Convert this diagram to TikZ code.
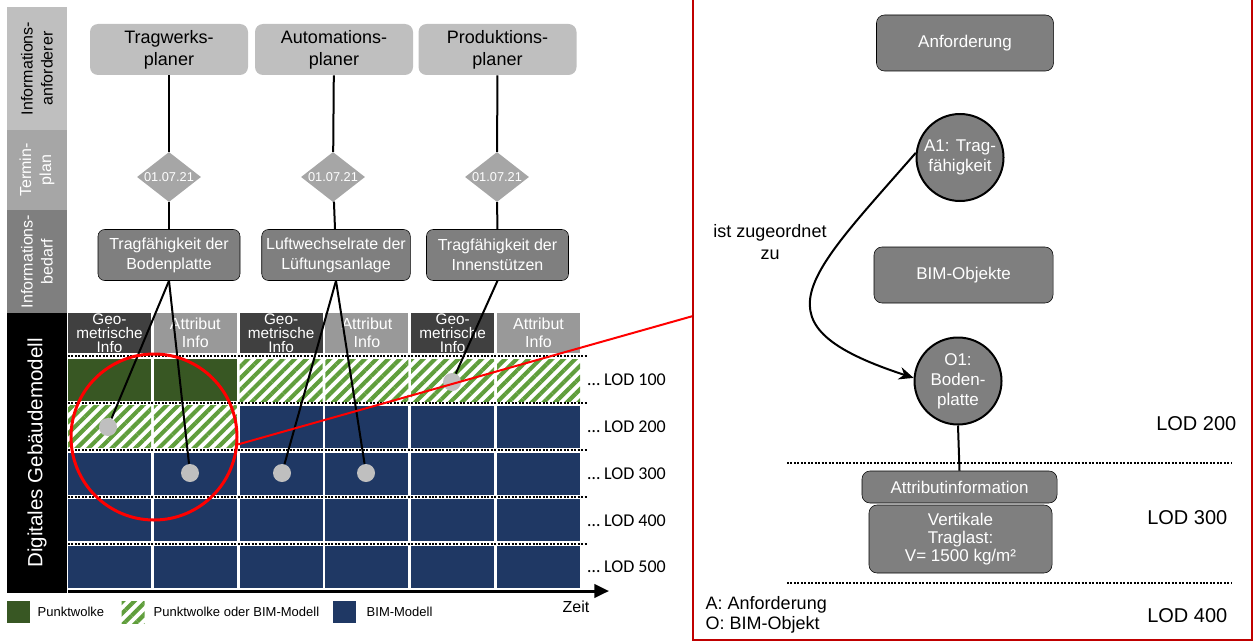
\documentclass[tikz,border=0pt]{standalone}
\usepackage{fontspec}
\setmainfont{Liberation Sans}
\newfontfamily\lodfont{Carlito}
\usetikzlibrary{positioning,shapes.geometric,arrows.meta,calc,patterns.meta}

\definecolor{reqgrey}{HTML}{BFBFBF}
\definecolor{plangrey}{HTML}{A6A6A6}
\definecolor{needgrey}{HTML}{7F7F7F}
\definecolor{geohead}{HTML}{404040}
\definecolor{atthead}{HTML}{999999}
\definecolor{cloudgreen}{HTML}{385723}
\definecolor{stripegreen}{HTML}{609E3C}
\definecolor{bimblue}{HTML}{1F3864}
\definecolor{framered}{HTML}{C00000}

\begin{document}
\begin{tikzpicture}[
    x=0.75pt,
    y=-0.75pt,
    >=Stealth,
    sidebar/.style={
        rotate=90,
        minimum height=45pt,
        inner sep=0pt,
        align=center,
        font=\fontsize{12}{15}\selectfont
    },
    role/.style={
        fill=reqgrey,
        rounded corners=6pt,
        minimum width=118.5pt,
        minimum height=38.25pt,
        align=center,
        font=\fontsize{13.5}{16.5}\selectfont
    },
    datebox/.style={
        diamond,
        fill=plangrey,
        minimum width=48pt,
        minimum height=37.5pt,
        inner sep=0pt
    },
    need/.style={
        draw=black,
        fill=needgrey,
        rounded corners=5pt,
        minimum width=106.5pt,
        minimum height=38.25pt,
        align=center,
        text=white,
        font=\fontsize{12}{15}\selectfont
    },
    geohd/.style={
        fill=geohead,
        text=white,
        minimum width=62.25pt,
        minimum height=30pt,
        inner sep=0pt,
        align=center,
        font=\fontsize{11.5}{10.5}\selectfont
    },
    atthd/.style={
        fill=atthead,
        text=white,
        minimum width=62.25pt,
        minimum height=30pt,
        inner sep=0pt,
        align=center,
        font=\fontsize{12}{13.5}\selectfont
    },
    cell/.style={minimum width=62.25pt, minimum height=31.5pt, inner sep=0pt},
    cloud/.style={cell, fill=cloudgreen},
    mixed/.style={cell, pattern={Lines[angle=45,distance=6.2pt,line width=3.1pt]},
        pattern color=stripegreen},
    bim/.style={cell, fill=bimblue},
    sepline/.style={line width=1.5pt, dash pattern=on 1.5pt off 1.1pt},
    hit/.style={circle, fill=reqgrey, minimum size=13.5pt, inner sep=0pt},
    link/.style={line width=1.5pt},
    lodtag/.style={anchor=west, font=\lodfont\fontsize{13.5}{15}\selectfont},
    keybox/.style={minimum width=17.25pt, minimum height=16.5pt, inner sep=0pt},
    keytext/.style={anchor=west, font=\fontsize{9.75}{11}\selectfont},
    obj/.style={
        draw=black,
        fill=needgrey,
        rounded corners=6pt,
        align=center,
        text=white,
        font=\fontsize{12.75}{13.5}\selectfont
    },
    ring/.style={
        circle,
        draw=black,
        line width=1.5pt,
        fill=needgrey,
        minimum size=65.25pt,
        inner sep=0pt,
        align=center,
        text=white,
        font=\fontsize{12.75}{15}\selectfont
    },
    bigtag/.style={anchor=east, font=\fontsize{15}{17}\selectfont}
]
\clip (0,0) rectangle (1255,642);

% side labels
\node[sidebar, fill=reqgrey, minimum width=92.25pt] (req) at (37,68.5) {Informations-\\anforderer};
\node[sidebar, fill=plangrey, minimum width=60pt, text=white] (plan) at (37,170) {Termin-\\plan};
\node[sidebar, fill=needgrey, minimum width=77.25pt, text=white] (need) at (37,261.5) {Informations-\\bedarf};
\node[sidebar, fill=black, minimum width=210pt, text=white,
    font=\fontsize{15.4}{17}\selectfont] (model) at (37,453) {Digitales Gebäudemodell};

% requesting parties
\node[role] (tw) at (169,49.5) {Tragwerks-\\planer};
\node[role] (au) at (334,49.5) {Automations-\\planer};
\node[role] (pr) at (497.5,49.5) {Produktions-\\planer};

% dates
\foreach \n/\x in {1/169,2/333,3/497}
    \node[datebox, label={[text=white, font=\fontsize{9.6}{11}\selectfont]center:01.07.21}] (d\n) at (\x,177) {};

% information needs
\node[need] (n1) at (169,255) {Tragfähigkeit der\\Bodenplatte};
\node[need] (n2) at (336,255) {Luftwechselrate der\\Lüftungsanlage};
\node[need] (n3) at (497.5,255) {Tragfähigkeit der\\Innenstützen};

\draw[link] (tw) -- (d1);
\draw[link] (au) -- (d2);
\draw[link] (pr) -- (d3);
\draw[link] (d1) -- (n1);
\draw[link] (d2) -- (n2);
\draw[link] (d3) -- (n3);

% column heads
\foreach \c in {1,3,5}
    \node[geohd] (head\c) at ({109.5+85.8*(\c-1)},333) {Geo-\\metrische\\Info};
\foreach \c in {2,4,6}
    \node[atthd] (head\c) at ({109.5+85.8*(\c-1)},333) {Attribut\\Info};

% LOD 100
\foreach \c in {1,2}
    \node[cloud] (cell1-\c) at ({109.5+85.8*(\c-1)},380) {};
\foreach \c in {3,...,6}
    \node[mixed] (cell1-\c) at ({109.5+85.8*(\c-1)},380) {};
% LOD 200
\foreach \c in {1,2}
    \node[mixed] (cell2-\c) at ({109.5+85.8*(\c-1)},426.8) {};
\foreach \c in {3,...,6}
    \node[bim] (cell2-\c) at ({109.5+85.8*(\c-1)},426.8) {};
% LOD 300 to 500
\foreach \r in {3,4,5}
    \foreach \c in {1,...,6}
        \node[bim] (cell\r-\c) at ({109.5+85.8*(\c-1)},{380+46.8*(\r-1)}) {};

\foreach \i in {0,...,4}
    \draw[sepline] (68,{356+47*\i}) -- (587,{356+47*\i});

\foreach \r/\lod in {1/100,2/200,3/300,4/400,5/500}
    \node[lodtag] (lod\r) at (583,{380+46.8*(\r-1)}) {… LOD \lod};

% time axis
\coordinate (t0) at (68,591);
\coordinate (t1) at (609,591);
\draw[line width=2.25pt, -{Triangle[length=11pt,width=10pt]}] (t0) -- (t1);
\node[font=\fontsize{12}{14}\selectfont] (zeit) at (576,607) {Zeit};

% hits in the grid
\node[hit] (h1) at (108,427) {};
\node[hit] (h2) at (190,473) {};
\node[hit] (h3) at (282,473) {};
\node[hit] (h4) at (366,473) {};
\node[hit] (h5) at (452,382) {};

\draw[link] (n1.south) -- (h1);
\draw[link] (n1.south) -- (h2);
\draw[link] (n2.south) -- (h3);
\draw[link] (n2.south) -- (h4);
\draw[link] (n3.south) -- (h5);

% legend
\node[keybox, fill=cloudgreen] (k1) at (18.5,612) {};
\node[keytext] (k1t) at (33,612) {Punktwolke};
\node[keybox, pattern={Lines[angle=45,distance=6.2pt,line width=3.1pt]},
    pattern color=stripegreen] (k2) at (133,612) {};
\node[keytext] (k2t) at (149,612) {Punktwolke oder BIM-Modell};
\node[keybox, fill=bimblue] (k3) at (344.5,612) {};
\node[keytext] (k3t) at (362,612) {BIM-Modell};

% zoom on the floor slab
\node[circle, draw=red, line width=2.25pt, minimum size=124.5pt] (zoom) at (154,437) {};
\coordinate (panelin) at (693,316);
\draw[red, line width=1.5pt] (zoom.-5) -- (panelin);

% detail panel
\draw[framered, line width=1.5pt] (693,-10) rectangle (1252,640);

\node[obj, minimum width=132.75pt, minimum height=42pt] (anf) at (965,43) {Anforderung};
\node[ring] (a1) at (960,157.5) {A1: Trag-\\fähigkeit};
\node[obj, minimum width=134.25pt, minimum height=42pt] (bimobj) at (963.5,275) {BIM-Objekte};
\node[ring] (o1) at (958,381) {O1:\\Boden-\\platte};
\node[obj, minimum width=146.25pt, minimum height=24pt, inner sep=0pt] (attr) at (959.5,487) {Attributinformation};
\node[obj, minimum width=137.25pt, minimum height=51pt, inner sep=0pt] (load) at (960.5,539) {Vertikale\\Traglast:\\V= 1500 kg/m²};

\draw[link, -{Stealth[length=11pt,width=9.5pt]}] (a1.174) .. controls +(-111,127) and +(-162,-53) .. (o1.176);
\node[align=center, font=\fontsize{13.5}{16.5}\selectfont] (assign) at (770,242) {ist zugeordnet\\zu};
\draw[link] (o1.south) -- (attr.north);

\coordinate (s1a) at (787,463);
\coordinate (s1b) at (1232,463);
\coordinate (s2a) at (787,583);
\coordinate (s2b) at (1232,583);
\draw[sepline] (s1a) -- (s1b);
\draw[sepline] (s2a) -- (s2b);

\node[bigtag] (r200) at (1241,424) {LOD 200};
\node[bigtag] (r300) at (1232,518) {LOD 300};
\node[bigtag] (r400) at (1232,616) {LOD 400};

\node[anchor=west, align=left, font=\fontsize{13.5}{15}\selectfont] (abbr) at (701,615) {A: Anforderung\\O: BIM-Objekt};

\end{tikzpicture}
\end{document}
